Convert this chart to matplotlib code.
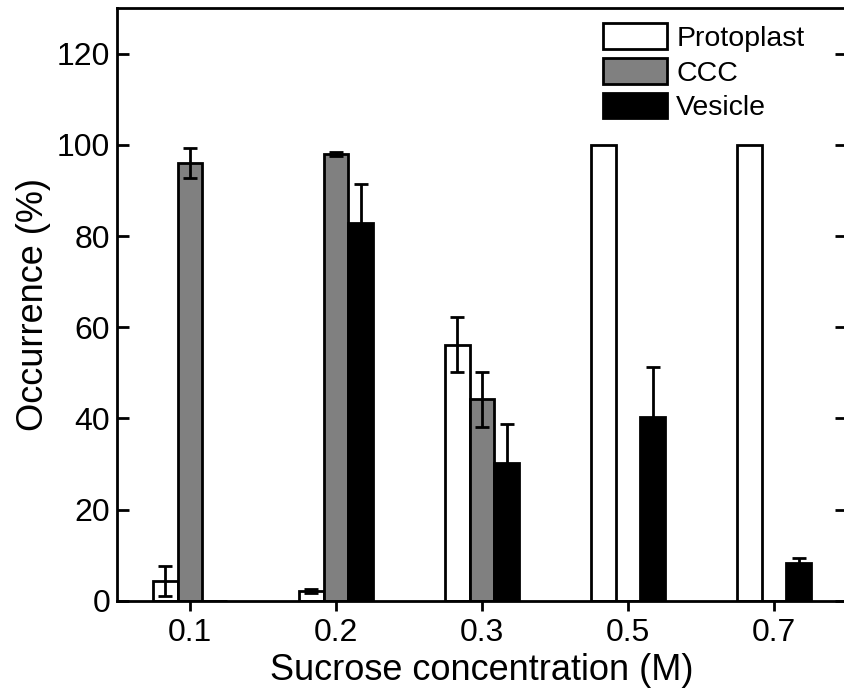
import numpy as np
import matplotlib
matplotlib.use('Agg')
import matplotlib.pyplot as plt

plt.rcParams['font.family'] = ['Liberation Sans', 'DejaVu Sans']

concentrations = ['0.1', '0.2', '0.3', '0.5', '0.7']
protoplast = [4.4, 2.2, 56.2, 100, 100]
protoplast_err = [3.3, 0.5, 6.1, np.nan, np.nan]
ccc = [96, 98, 44.2, 0, 0]
ccc_err = [3.2, 0.5, 6.1, np.nan, np.nan]
vesicle = [0, 82.8, 30.2, 40.4, 8.4]
vesicle_err = [np.nan, 8.7, 8.5, 10.8, 1.0]

fig = plt.figure(figsize=(8.44, 6.88), dpi=100)
ax = fig.add_axes([0.1386, 0.1265, 0.865, 0.862])

x = np.arange(len(concentrations))
w = 0.17
series = [
    (protoplast, protoplast_err, 'white', 'Protoplast', -w),
    (ccc, ccc_err, '#808080', 'CCC', 0),
    (vesicle, vesicle_err, 'black', 'Vesicle', w),
]
for vals, errs, color, label, off in series:
    ax.bar(x + off, vals, w, color=color, edgecolor='black', linewidth=2, label=label, zorder=2)
    ax.errorbar(x + off, vals, yerr=errs, fmt='none', ecolor='black', elinewidth=2,
                capsize=5, capthick=2, zorder=3)

ax.set_xlim(-0.5, 4.5)
ax.set_ylim(0, 130)
ax.set_xticks(x)
ax.set_xticklabels(concentrations)
ax.set_yticks([0, 20, 40, 60, 80, 100, 120])
ax.tick_params(axis='y', direction='in', length=8.5, width=2, labelsize=23, right=True, pad=5)
ax.tick_params(axis='x', direction='out', length=7, width=2, labelsize=23, pad=5)
for s in ax.spines.values():
    s.set_linewidth(2)

ax.set_xlabel('Sucrose concentration (M)', fontsize=26, labelpad=4)
ax.set_ylabel('Occurrence (%)', fontsize=26, labelpad=4)

ax.legend(loc='upper left', bbox_to_anchor=(0.666, 0.974), frameon=False, fontsize=20.5,
          handlelength=2.25, handleheight=1.0, labelspacing=0.22, handletextpad=0.32,
          borderaxespad=0, borderpad=0)

fig.savefig('out.png', dpi=100)
